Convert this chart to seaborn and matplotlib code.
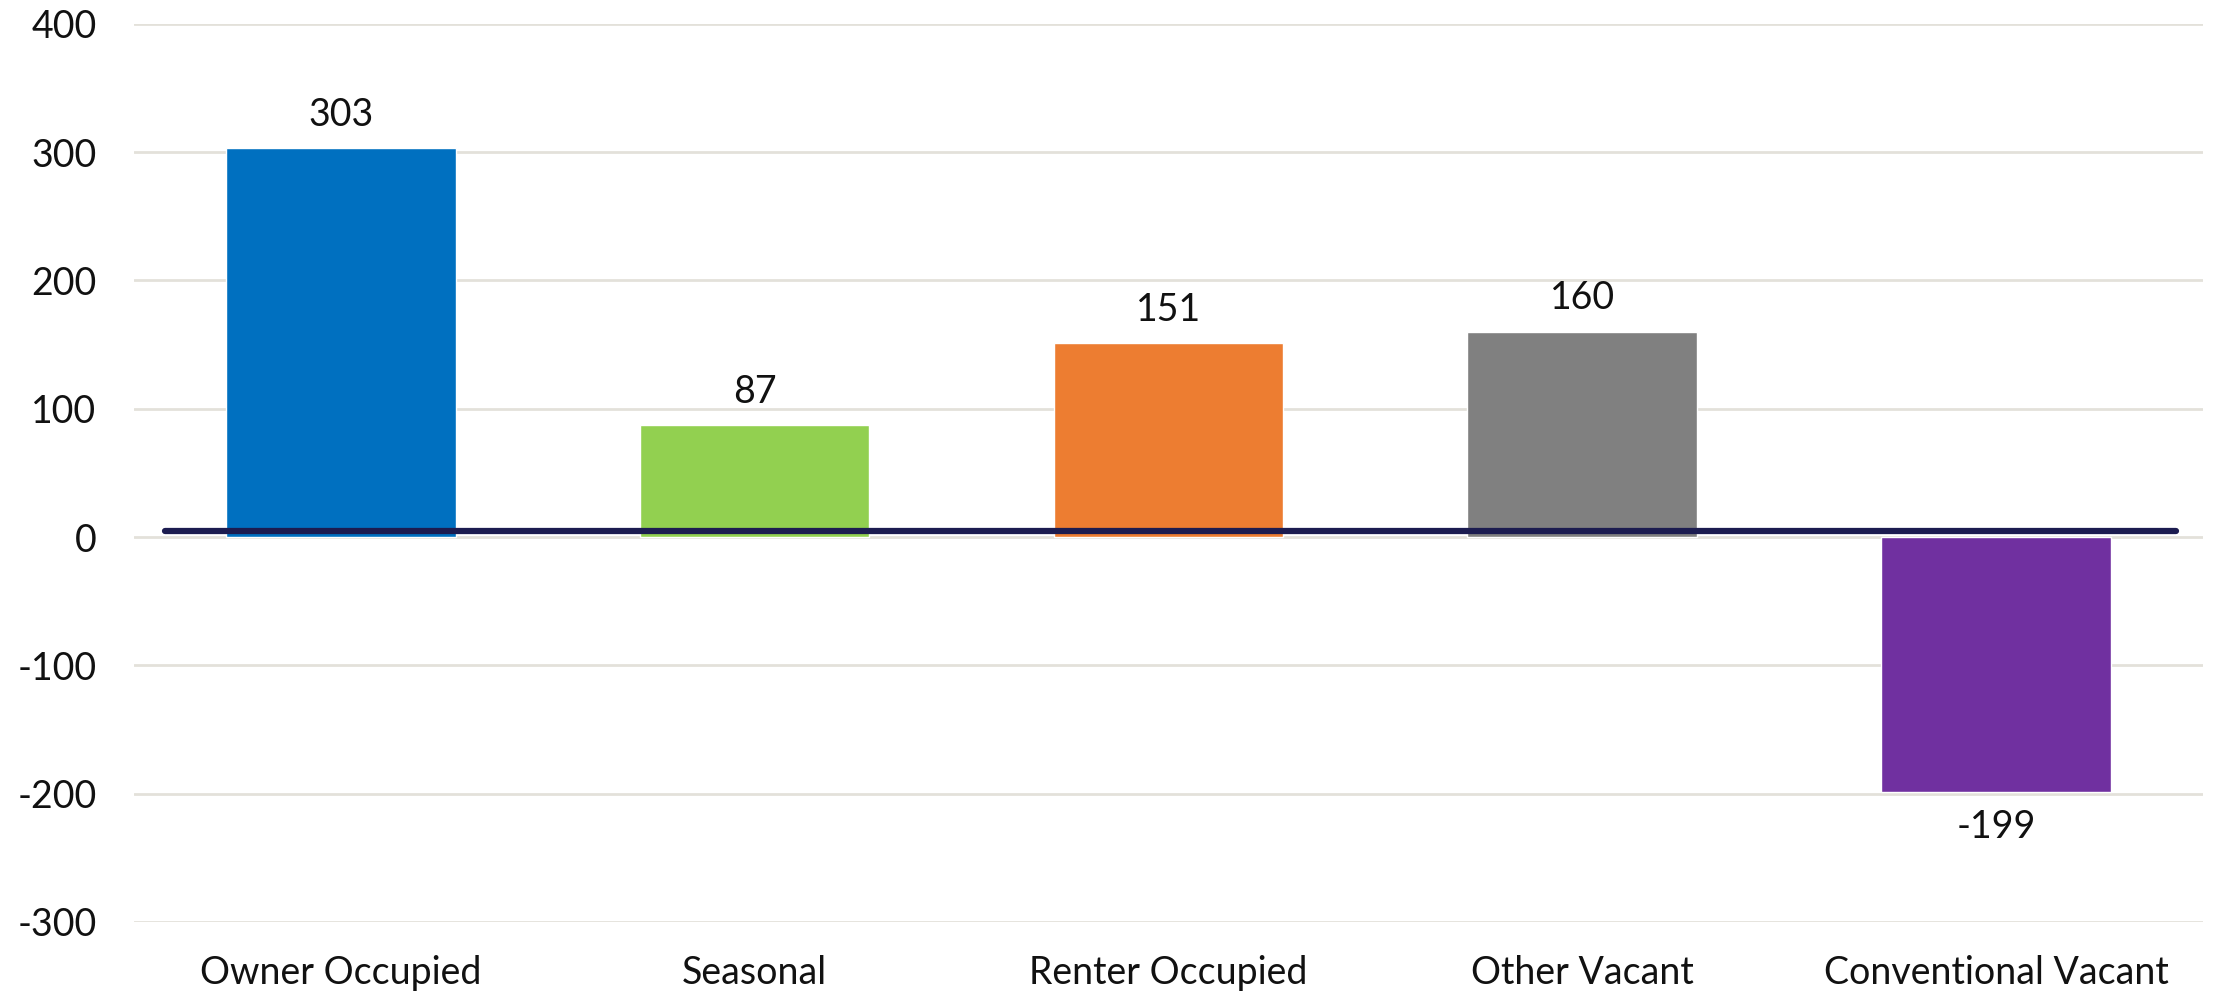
import matplotlib
matplotlib.use("Agg")
import matplotlib.pyplot as plt
import seaborn as sns
import pandas as pd

# valeurs
categories = ["Owner Occupied", "Seasonal", "Renter Occupied", "Other Vacant", "Conventional Vacant"]
values = [303, 87, 151, 160, -199]
bar_colors = ["#0070C0", "#92D050", "#ED7D31", "#808080", "#7030A0"]
y_ticks = [-300, -200, -100, 0, 100, 200, 300, 400]

sns.set_theme(style="white")
plt.rcParams["font.family"] = ["Lato", "DejaVu Sans"]
plt.rcParams["axes.unicode_minus"] = False

df = pd.DataFrame({"category": categories, "value": values})

fig = plt.figure(figsize=(22.14, 9.92), dpi=100)
ax = fig.add_axes([0.0605, 0.0706, 0.9345, 0.9054])

sns.barplot(data=df, x="category", y="value", hue="category",
            palette=bar_colors, width=0.555, legend=False, ax=ax,
            saturation=1, zorder=2)

ax.set_ylim(-300, 400)
ax.set_xlim(-0.5, 4.5)
ax.set_yticks(y_ticks)
ax.yaxis.grid(True, color="#E3E1DA", linewidth=2, zorder=0)
ax.set_axisbelow(True)
for s in ax.spines.values():
    s.set_visible(False)

# ligne foncée près de zéro
ax.axhline(4.5, xmin=0.015, xmax=0.987, color="#1C1C50", linewidth=4.5, zorder=3)

# étiquettes de valeurs
for p in ax.patches:
    h = p.get_height()
    if h == 0 or p.get_width() == 0:
        continue
    x = p.get_x() + p.get_width() / 2
    off = 11 if h > 0 else -12
    ax.annotate(f"{h:.0f}", (x, h), xytext=(0, off), textcoords="offset points",
                ha="center", va="bottom" if h > 0 else "top",
                fontsize=27, color="#111111")

ax.set_xlabel("")
ax.set_ylabel("")
ax.tick_params(axis="y", length=0, pad=27, labelsize=27, labelcolor="#111111")
ax.tick_params(axis="x", length=0, pad=24, labelsize=27, labelcolor="#111111")

fig.savefig("out.png", dpi=100)
